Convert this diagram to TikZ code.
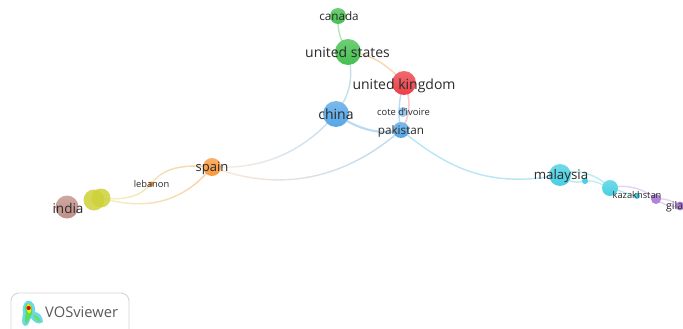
\documentclass[tikz,border=0pt]{standalone}
\usepackage{fontspec}
\setmainfont{Open Sans}
\definecolor{cgreen}{HTML}{45C04F}
\definecolor{cred}{HTML}{EC3F46}
\definecolor{cblue}{HTML}{55A6E6}
\definecolor{corange}{HTML}{F8983C}
\definecolor{cyellow}{HTML}{CDD238}
\definecolor{cbrown}{HTML}{C08F88}
\definecolor{ccyan}{HTML}{48CFE2}
\definecolor{cpurple}{HTML}{B184DC}
\definecolor{ctxt}{HTML}{2A2A2A}
\tikzset{
 x=1pt,y=-1pt,
 vnode/.style={circle,inner sep=0pt,minimum size=#1,draw=none},
 gc/.style={top color=#1!78!white,bottom color=#1,shading angle=0},
 lab/.style={text=ctxt,inner sep=0pt,font=\fontsize{#1}{#1}\selectfont},
 edge/.style={line width=1.4pt,line cap=round},
}
% connector whose colour runs from left to right over vertical slices
\newcommand{\gradedge}[6]{% x0, x1, colA, colB, width, path
 \foreach \i in {0,...,23}{
  \pgfmathsetmacro{\xa}{#1+(#2-#1)*\i/24}
  \pgfmathsetmacro{\xb}{#1+(#2-#1)*(\i+1)/24+0.6}
  \pgfmathsetmacro{\mixp}{100-100*\i/23}
  \begin{scope}
   \clip (\xa,0) rectangle (\xb,329);
   \draw[edge,line width=#5,color=#3!\mixp!#4] #6;
  \end{scope}
 }
}
\begin{document}
\begin{tikzpicture}
\useasboundingbox (0,0) rectangle (683,329);
\clip (0,0) rectangle (683,329);
\fill[white] (0,0) rectangle (683,329);

% node anchors (drawn later on top of the connectors)
\coordinate (pcanada) at (338,16);
\coordinate (pus) at (348,52);
\coordinate (puk) at (404,83);
\coordinate (pchina) at (336,114);
\coordinate (ppak) at (401,130);
\coordinate (pcote) at (403,112);
\coordinate (pspain) at (212,167);
\coordinate (pleb) at (151,184);
\coordinate (py1) at (94,200);
\coordinate (py2) at (101,198);
\coordinate (pindia) at (67,207);
\coordinate (pmal) at (560,175);
\coordinate (pm2) at (585,181);
\coordinate (pkaz) at (610,188);
\coordinate (pm3) at (637,196);
\coordinate (pp1) at (656,199);
\coordinate (pgil) at (680,206);

% connectors
\draw[edge,color=cgreen!40!white] (pcanada) .. controls (337,30) and (341,42) .. (pus);
\draw[edge,color=cgreen!25!cblue!35!white] (pus) .. controls (353,75) and (352,92) .. (pchina);
\draw[edge,color=corange!40!white] (pus) .. controls (370,53) and (388,65) .. (puk);
\draw[edge,color=cred!28!white,line width=1.5pt] (puk) .. controls (412,100) and (410,118) .. (ppak);
\draw[edge,color=cblue!40!white] (puk) .. controls (398,100) and (398,118) .. (ppak);
\draw[edge,color=cblue!40!white,line width=2.2pt] (pchina) .. controls (355,128) and (380,136) .. (ppak);
\gradedge{212}{336}{corange!50!white}{cblue!35!white}{1.4pt}{(pspain) .. controls (265,170) and (305,150) .. (pchina)}
\gradedge{212}{401}{corange!55!white}{cblue!40!white}{1.4pt}{(pspain) .. controls (285,195) and (350,175) .. (ppak)}
\draw[edge,color=cblue!35!ccyan!40!white] (ppak) .. controls (450,170) and (490,188) .. (pmal);
\draw[edge,color=ccyan!40!white] (pmal) .. controls (572,168) and (595,172) .. (pkaz);
\draw[edge,color=ccyan!40!white] (pmal) .. controls (570,183) and (578,183) .. (pm2);
\draw[edge,color=ccyan!35!white] (pm2) .. controls (595,180) and (600,184) .. (pkaz);
\draw[edge,color=ccyan!40!white] (pkaz) .. controls (620,190) and (628,195) .. (pm3);
\draw[edge,color=cpurple!35!white] (pkaz) .. controls (628,183) and (645,190) .. (pp1);
\draw[edge,color=cpurple!35!white] (pp1) .. controls (662,204) and (672,208) .. (pgil);
\draw[edge,color=cpurple!35!white] (pp1) .. controls (664,198) and (674,201) .. (pgil);
\gradedge{101}{212}{cyellow!65!white}{corange!45!white}{1.4pt}{(py2) .. controls (135,202) and (145,190) .. (pleb) .. controls (160,172) and (175,163) .. (pspain)}
\gradedge{101}{212}{cyellow!65!white}{corange!45!white}{1.4pt}{(py2) .. controls (150,212) and (185,200) .. (pspain)}

% nodes
\node[vnode=16pt,gc=cgreen] (canada) at (pcanada) {};
\node[vnode=26pt,gc=cgreen] (us) at (pus) {};
\node[vnode=24pt,gc=cred] (uk) at (puk) {};
\node[vnode=10pt,fill=cblue!60!white] (cote) at (pcote) {};
\node[vnode=26pt,gc=cblue] (china) at (pchina) {};
\node[vnode=16pt,gc=cblue] (pak) at (ppak) {};
\node[vnode=18pt,gc=corange] (spain) at (pspain) {};
\node[vnode=5pt,fill=corange] (leb) at (pleb) {};
\node[vnode=21pt,fill=cyellow,opacity=.85] (yone) at (py1) {};
\node[vnode=19pt,fill=cyellow,opacity=.85] (ytwo) at (py2) {};
\node[vnode=23pt,gc=cbrown] (india) at (pindia) {};
\node[vnode=22pt,gc=ccyan] (mal) at (pmal) {};
\node[vnode=6pt,fill=ccyan] (mtwo) at (pm2) {};
\node[vnode=16pt,gc=ccyan] (kaz) at (pkaz) {};
\node[vnode=6pt,fill=ccyan] (mthree) at (pm3) {};
\node[vnode=10pt,fill=cpurple] (pone) at (pp1) {};
\node[vnode=9pt,fill=cpurple] (gil) at (pgil) {};

% labels
\node[lab=11.7] (lcanada) at (339,16) {canada};
\node[lab=14] (lus) at (347.5,52) {united states};
\node[lab=14] (luk) at (404,85.5) {united kingdom};
\node[lab=14] (lchina) at (336,114) {china};
\node[lab=9.4] (lcote) at (403.5,111.5) {cote d'ivoire};
\node[lab=11.7] (lpak) at (401,131) {pakistan};
\node[lab=13] (lspain) at (212,168) {spain};
\node[lab=9.3] (lleb) at (151.5,184) {lebanon};
\node[lab=13.5] (lindia) at (68,208) {india};
\node[lab=13.3] (lmal) at (561,176.5) {malaysia};
\node[lab=9.3] (lkaz) at (637,195) {kazakhstan};
\node[lab=10.5,anchor=west] (lgil) at (666,207) {gila};

% logo box
\draw[draw=black!16,line width=.9pt,rounded corners=8pt,fill=white] (11,293) rectangle (129,345);
\begin{scope}
 \fill[ccyan!80!white] (27,301) .. controls (33,299) and (36,307) .. (35,312) .. controls (39,312) and (43,317) .. (43,322) .. controls (38,326) and (33,321) .. (31,318) .. controls (29,321) and (29,326) .. (25,326) .. controls (20,325) and (23,316) .. (23,313) .. controls (22,309) and (23,303) .. (27,301) -- cycle;
 \fill[green!80!black!65!white] (27,303.5) .. controls (32,302) and (33,310) .. (32,314) .. controls (30,317) and (28,322) .. (26,324) .. controls (24,321) and (26,315) .. (25.5,312) .. controls (24.5,309) and (25,305) .. (27,303.5) -- cycle;
 \fill[green!80!black!60!white] (33,314.5) .. controls (36,314.5) and (40,319) .. (41,321.5) .. controls (37,323) and (34,318) .. (33,314.5) -- cycle;
 \fill[yellow!95!orange] (28,304) .. controls (32,304) and (32,311) .. (29.5,313.5) .. controls (27,313) and (25.5,306) .. (28,304) -- cycle;
 \fill[red!90!black] (28.7,308) circle[radius=2.1];
\end{scope}
\node[lab=14.7,text=black!65,anchor=west] (logo) at (45,312) {VOSviewer};
\end{tikzpicture}
\end{document}
